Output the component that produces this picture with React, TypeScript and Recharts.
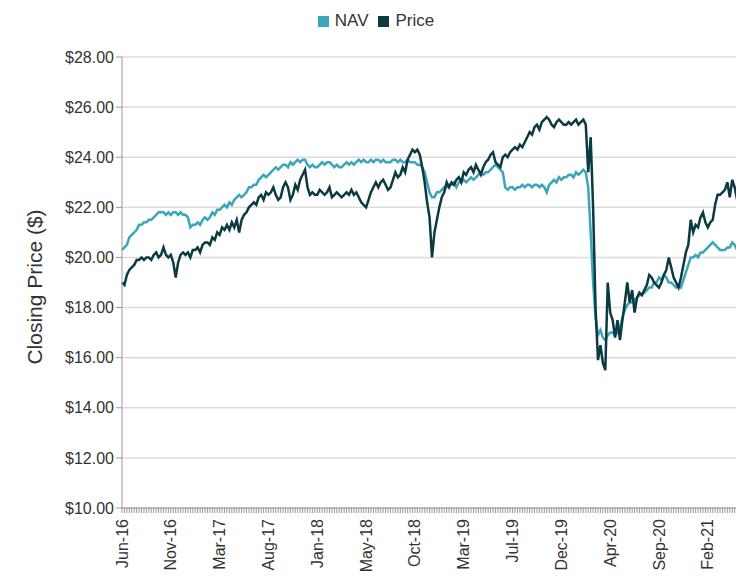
import React from "react";
import { LineChart, Line, XAxis, YAxis, CartesianGrid } from "recharts";

const tickLabels = ["Jun-16","Nov-16","Mar-17","Aug-17","Jan-18","May-18","Oct-18","Mar-19","Jul-19","Dec-19","Apr-20","Sep-20","Feb-21"];
const yTicks = [10,12,14,16,18,20,22,24,26,28];

const price = [
19.0,18.9,19.3,19.5,19.6,19.7,19.9,19.9,20.0,19.9,
20.0,20.0,19.9,20.1,20.2,20.0,20.1,20.4,20.1,20.0,
20.1,19.8,19.2,19.8,20.1,20.2,20.1,20.2,20.0,20.3,
20.3,20.4,20.2,20.5,20.6,20.6,20.5,20.8,20.7,21.0,
20.9,21.2,21.1,21.3,21.1,21.4,21.2,21.5,21.0,21.5,
21.7,21.8,22.0,22.1,22.2,22.1,22.4,22.5,22.3,22.6,
22.5,22.6,22.8,22.5,22.3,22.4,22.8,23.0,22.8,22.3,
22.5,22.9,22.7,23.1,23.3,23.5,22.8,22.5,22.6,22.5,
22.5,22.7,22.6,22.5,22.6,22.8,22.4,22.5,22.6,22.5,
22.4,22.5,22.6,22.5,22.7,22.5,22.6,22.4,22.2,22.1,
22.0,22.3,22.6,22.8,23.0,22.8,23.0,23.1,22.9,22.7,
22.8,23.1,23.4,23.2,23.3,23.6,23.4,23.9,24.1,24.3,
24.2,24.3,24.1,23.6,23.0,22.2,21.6,20.0,21.0,21.5,
22.0,22.4,22.6,23.0,22.8,23.0,22.9,23.1,23.2,23.0,
23.4,23.3,23.5,23.6,23.4,23.7,23.5,23.3,23.6,23.8,
23.9,24.1,24.2,23.8,23.7,23.6,24.0,24.1,24.0,24.2,
24.3,24.4,24.3,24.5,24.4,24.6,24.8,25.0,24.9,25.2,
25.3,25.1,25.4,25.5,25.6,25.5,25.3,25.2,25.4,25.5,
25.4,25.3,25.3,25.4,25.3,25.4,25.5,25.3,25.4,25.5,
25.3,23.4,24.8,22.0,18.0,15.9,16.5,15.8,15.5,19.0,
17.8,17.5,16.8,17.5,16.7,17.5,18.2,19.0,18.2,18.7,
17.8,18.4,18.6,18.5,18.7,18.9,19.3,19.2,19.0,18.9,
18.8,19.0,19.3,19.5,20.0,19.6,19.2,19.0,18.8,19.2,
19.7,20.2,20.5,21.5,21.0,21.3,21.2,21.6,21.8,21.4,
21.2,21.4,21.5,22.1,22.5,22.5,22.6,22.7,23.0,22.4,
23.1,22.8,22.3,22.4,22.6
];

const nav = [
20.3,20.4,20.5,20.8,20.9,21.0,21.1,21.3,21.3,21.4,
21.4,21.5,21.5,21.6,21.7,21.8,21.8,21.8,21.7,21.8,
21.7,21.8,21.8,21.7,21.8,21.7,21.7,21.6,21.2,21.3,
21.3,21.4,21.3,21.5,21.6,21.5,21.6,21.8,21.7,21.9,
21.9,22.0,22.1,22.0,22.2,22.1,22.3,22.4,22.5,22.4,
22.5,22.6,22.8,22.8,22.9,22.9,23.1,23.2,23.3,23.2,
23.3,23.4,23.5,23.6,23.5,23.6,23.7,23.7,23.6,23.8,
23.7,23.8,23.9,23.8,23.9,23.9,23.7,23.6,23.7,23.6,
23.6,23.7,23.8,23.7,23.8,23.8,23.7,23.6,23.7,23.6,
23.6,23.7,23.8,23.7,23.8,23.7,23.8,23.9,23.8,23.9,
23.8,23.8,23.9,23.8,23.9,23.9,23.8,23.9,23.8,23.8,
23.8,23.9,23.9,23.8,23.9,23.8,23.8,23.9,23.8,23.8,
23.8,23.7,23.7,23.6,23.4,23.0,22.6,22.4,22.4,22.6,
22.6,22.7,22.8,22.8,22.9,22.9,23.0,22.8,23.0,23.0,
23.1,23.0,23.1,23.2,23.1,23.2,23.3,23.4,23.3,23.4,
23.4,23.5,23.6,23.7,23.6,23.5,23.4,22.8,22.7,22.8,
22.8,22.7,22.8,22.8,22.9,22.8,22.9,22.9,22.8,22.9,
22.9,22.8,22.9,22.8,22.6,22.9,23.0,23.1,23.0,23.2,
23.1,23.2,23.2,23.3,23.3,23.2,23.4,23.3,23.4,23.5,
23.4,22.8,21.0,19.0,17.6,16.9,17.1,16.8,16.7,16.9,
17.0,17.0,16.9,17.0,17.2,17.6,17.9,18.1,18.2,18.2,
18.3,18.4,18.5,18.5,18.6,18.7,18.8,18.8,19.0,19.0,
19.2,19.1,19.3,19.2,19.0,19.0,18.9,18.8,18.9,18.8,
19.1,19.4,19.7,20.0,20.0,20.1,20.0,20.2,20.2,20.3,
20.4,20.5,20.6,20.5,20.4,20.3,20.3,20.3,20.4,20.4,
20.6,20.5,20.3,20.4,20.7
];

const data = price.map((p, i) => ({ i, price: p, nav: nav[i] }));

const FONT = "'Liberation Sans', Arial, sans-serif";

const XTick = (props: any) => {
  const { x, y, payload } = props;
  const i = payload.value as number;
  if (i % 20 !== 0) return null;
  return (
    <text x={x} y={y + 4} transform={`rotate(-90 ${x} ${y + 4})`} textAnchor="end" dominantBaseline="central" fontSize={16} fill="#333" fontFamily={FONT}>
      {tickLabels[i / 20]}
    </text>
  );
};

const YLabel = () => (
  <text x={26} y={279} transform="rotate(-90 26 279)" textAnchor="middle" dominantBaseline="central" fontSize={21} fill="#333" fontFamily={FONT}>
    Closing Price ($)
  </text>
);

export default function App() {
  return (
    <div style={{ position: "relative", width: 736, height: 580, fontFamily: FONT }}>
      <div style={{ position: "absolute", top: 3, left: 0, width: 736, display: "flex", justifyContent: "center", fontSize: 17, color: "#333" }}>
        <span style={{ display: "flex", alignItems: "center", marginRight: 10 }}>
          <span style={{ width: 11, height: 11, background: "#3aa6b9", display: "inline-block", marginRight: 6 }} />NAV
        </span>
        <span style={{ display: "flex", alignItems: "center" }}>
          <span style={{ width: 11, height: 11, background: "#0b3a40", display: "inline-block", marginRight: 6 }} />Price
        </span>
      </div>
      <LineChart width={736} height={580} data={data} margin={{ top: 49, right: 2, bottom: 0, left: 0 }}>
        <CartesianGrid horizontal={true} vertical={false} stroke="#dcdcdc" strokeWidth={1.5} />
        <XAxis dataKey="i" type="category" interval={0} height={80} tick={<XTick />} tickLine={{ stroke: "#999" }} tickSize={5} axisLine={{ stroke: "#999" }} />
        <YAxis domain={[10, 28]} ticks={yTicks} width={114} tickFormatter={(v: number) => `$${v.toFixed(2)}`} tick={{ fontSize: 16, fill: "#333", fontFamily: FONT }} tickLine={{ stroke: "#999" }} tickSize={6} axisLine={{ stroke: "#999" }} />
        <Line dataKey="nav" stroke="#3aa6b9" strokeWidth={2.5} dot={false} isAnimationActive={false} />
        <Line dataKey="price" stroke="#0b3a40" strokeWidth={2.5} dot={false} isAnimationActive={false} />
        <YLabel />
      </LineChart>
    </div>
  );
}
